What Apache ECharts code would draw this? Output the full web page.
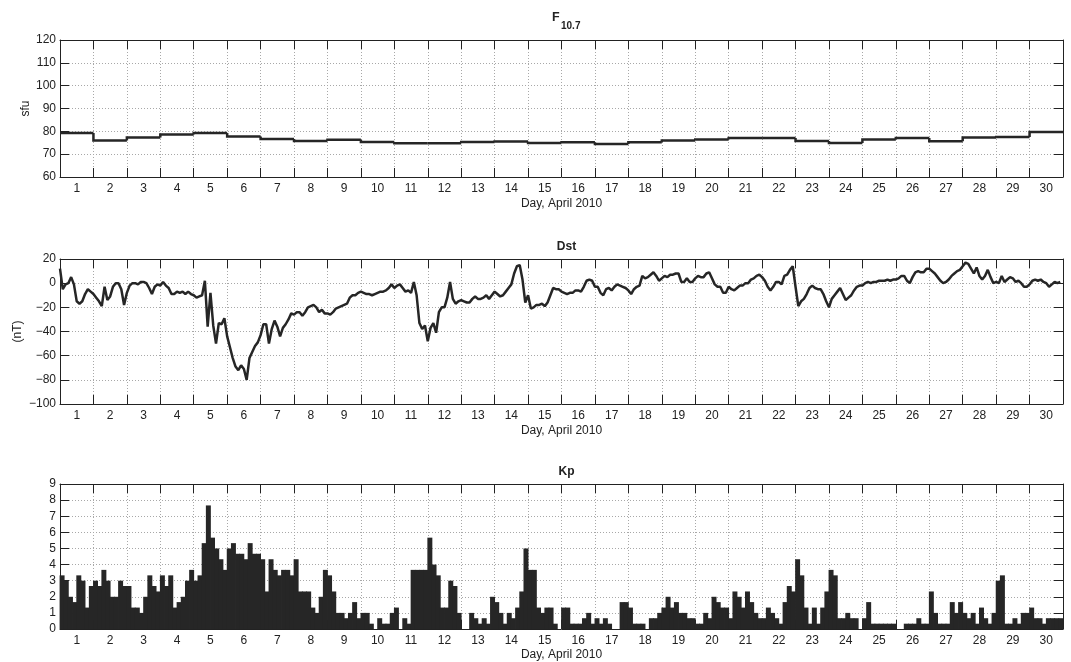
<!DOCTYPE html>
<html><head><meta charset="utf-8">
<script src="https://cdn.jsdelivr.net/npm/echarts@6/dist/echarts.min.js"></script>
<style>html,body{margin:0;padding:0;background:#fff}#c{width:1071px;height:662px}</style>
</head><body><div id="c"></div>
<script>
// ---------- data ----------
const dayLabels = ['1','2','3','4','5','6','7','8','9','10','11','12','13','14','15','16','17','18','19','20','21','22','23','24','25','26','27','28','29','30'];

// F10.7 daily values (sfu)
const f107 = [79.3, 76.0, 77.3, 78.6, 79.3, 77.7, 76.6, 75.8, 76.3, 75.3, 74.8, 74.8, 75.3, 75.6, 74.9,
              75.2, 74.4, 75.2, 76.0, 76.4, 77.1, 77.1, 75.8, 74.9, 76.4, 77.1, 75.7, 77.3, 77.5, 79.7];

// Dst (nT), 2-hourly, one row per day
const dstByDay = [
  [12, -5, -1, 0, 5, -1, -15, -17, -15, -9, -5, -7],
  [-9, -12, -15, -19, -3, -14, -11, -3, 0, 0, -5, -18],
  [-8, -2, 0, 0, -1, 1, 1, 0, -4, -9, -3, -1],
  [-2, 1, -2, -4, -9, -9, -7, -8, -7, -9, -7, -9],
  [-10, -12, -11, -10, 2, -36, -8, -35, -50, -33, -34, -29],
  [-44, -53, -62, -69, -72, -68, -71, -80, -62, -57, -52, -49],
  [-43, -34, -34, -50, -38, -31, -36, -44, -37, -34, -30, -25],
  [-26, -24, -24, -27, -24, -20, -19, -18, -20, -24, -22, -25],
  [-25, -26, -24, -21, -20, -19, -18, -17, -12, -10, -10, -8],
  [-7, -8, -9, -9, -10, -9, -8, -7, -7, -6, -4, -1],
  [-4, -2, -1, -4, -7, -6, -8, 1, -10, -33, -38, -35],
  [-48, -37, -33, -41, -24, -20, -20, -12, 1, -13, -17, -15],
  [-14, -15, -16, -16, -13, -11, -13, -13, -12, -10, -13, -10],
  [-7, -9, -11, -10, -7, -4, -1, 8, 14, 15, 3, -16],
  [-10, -21, -20, -18, -18, -17, -19, -16, -10, -4, -5, -5],
  [-7, -8, -9, -8, -8, -6, -6, -7, -3, 2, 3, 2],
  [-3, -3, -8, -10, -5, -4, -6, -3, -1, -2, -3, -4],
  [-6, -9, -5, -3, -2, 6, 4, 5, 7, 9, 6, 2],
  [4, 6, 5, 7, 7, 8, 8, 1, 1, 4, 1, 1],
  [4, 6, 5, 5, 8, 9, 4, -1, -3, -3, -8, -8],
  [-3, -5, -6, -4, -2, -2, 0, 0, 3, 4, 6, 7],
  [5, 2, -3, -6, -3, 1, 1, -1, 6, 7, 11, 14],
  [-3, -19, -15, -13, -9, -4, -2, -4, -5, -5, -9, -15],
  [-20, -13, -10, -7, -4, -9, -14, -12, -10, -6, -3, -2],
  [-2, 0, 1, 0, 1, 1, 2, 2, 2, 3, 2, 3],
  [3, 4, 6, 6, 2, 0, 5, 9, 10, 9, 9, 12],
  [12, 10, 8, 5, 2, 0, 1, 3, 6, 8, 10, 11],
  [14, 17, 16, 12, 8, 13, 6, 3, 6, 11, 5, 0],
  [1, 0, 6, 1, 3, 5, 4, 1, 2, 0, -3, -3],
  [-1, 2, 3, 2, 3, 1, 0, -3, -1, 1, 0, 1]
];

// Kp, 3-hourly, one row per day
const kpByDay = [
  [3.33, 3, 2, 1.67, 3.33, 3, 1.33, 2.67],
  [3, 2.67, 3.67, 3, 2, 2, 3, 2.67],
  [2.67, 1.33, 1.33, 1, 2, 3.33, 2.67, 2.33],
  [3.33, 2.67, 3.33, 1.33, 1.67, 2, 3, 3.67],
  [3, 3.33, 5.33, 7.67, 5.67, 5, 4.33, 3.67],
  [5, 5.33, 4.67, 4.67, 4.33, 5.33, 4.67, 4.67],
  [4.33, 2.33, 4.33, 3.67, 3.33, 3.67, 3.67, 3.33],
  [4.33, 2.33, 2.33, 2.33, 1.33, 1, 2, 3.67],
  [3.33, 2.33, 1, 1, 0.67, 1, 1.67, 0.67],
  [1, 1, 0.33, 0, 0.67, 0.33, 0.33, 1],
  [1.33, 0, 0.67, 0.33, 3.67, 3.67, 3.67, 3.67],
  [5.67, 4, 3.33, 1.33, 1.33, 3, 2.67, 1],
  [0, 0, 1, 0.67, 0.33, 0.67, 0.33, 2],
  [1.67, 1, 0.33, 1, 0.67, 1.33, 2.33, 5],
  [3.67, 3.67, 1.33, 1, 1.33, 1.33, 0.33, 0],
  [1.33, 1.33, 0.33, 0.33, 0.33, 0.67, 1, 0.33],
  [0.67, 0.33, 0.67, 0.33, 0, 0, 1.67, 1.67],
  [1.33, 0.33, 0.33, 0.33, 0, 0.67, 0.67, 1],
  [1.33, 2, 1.33, 1.67, 1, 1, 0.67, 0.67],
  [0.33, 0.33, 1, 0.67, 2, 1.67, 1.33, 1.33],
  [0.67, 2.33, 2, 1.33, 2.33, 1.67, 1, 0.67],
  [0.67, 1.33, 1, 0.67, 0.33, 1.67, 2.67, 2.33],
  [4.33, 3.33, 1.33, 0.33, 1.33, 0.33, 1.33, 2.33],
  [3.67, 3.33, 0.67, 0.67, 1, 0.67, 0.67, 0],
  [0.67, 1.67, 0.33, 0.33, 0.33, 0.33, 0.33, 0.33],
  [0, 0, 0.33, 0.33, 0.33, 0.67, 0.33, 0.33],
  [2.33, 1, 0.33, 0.33, 0.33, 1.67, 1, 1.67],
  [1, 0.67, 1, 0.33, 1.33, 0.67, 0.33, 1],
  [3, 3.33, 0.33, 0.33, 0.67, 0.33, 1, 1],
  [1.33, 0.67, 0.67, 0.33, 0.67, 0.67, 0.67, 0.67]
];

const panelTitles = ['F', 'Dst', 'Kp'];
const f107Sub = '10.7';
const yNames = ['sfu', '(nT)', ''];
const yRanges = [[60, 120, 10], [-100, 20, 20], [0, 9, 1]];
const xName = 'Day, April 2010';

// ---------- build ----------
const HOURS = 720;
// [start hour, value, previous day's value]
const f107Data = f107.map((v, i) => [i * 24, v, i > 0 ? f107[i - 1] : v]);
const dstData = [];
dstByDay.forEach((row, d) => row.forEach((v, j) => dstData.push([d * 24 + j * 2, v])));
// [slot index, Kp]
const kpData = [];
const kpSlots = [];
kpByDay.forEach((row, d) => row.forEach((v, j) => { kpData.push([kpSlots.length, v]); kpSlots.push(d + '_' + j); }));

const FONT = 'Liberation Sans, Arial, Helvetica, sans-serif';
const INK = '#222';
const MARK = '#262626';
const gridLine = { show: true, showMinLine: false, showMaxLine: false, lineStyle: { color: '#a8a8a8', type: [1, 2], width: 1 } };

const grids = [
  { left: 60, right: 8, top: 40, height: 137 },
  { left: 60, right: 8, top: 259, height: 145 },
  { left: 60, right: 8, top: 484, height: 147 }
];

const xAxes = [];
const yAxes = [];
grids.forEach((g, gi) => {
  xAxes.push({
    type: 'category', gridIndex: gi, data: dayLabels, position: 'bottom', boundaryGap: true,
    axisLine: { show: true, onZero: false, lineStyle: { color: INK, width: 1 } },
    axisTick: { show: true, inside: true, length: 9, interval: 0, lineStyle: { color: INK } },
    axisLabel: { show: true, interval: 0, margin: 6, color: INK, fontSize: 12, fontFamily: FONT },
    splitLine: Object.assign({ interval: 0 }, gridLine),
    name: xName, nameLocation: 'middle', nameGap: gi === 2 ? 20 : 21, nameMoveOverlap: false,
    nameTextStyle: { color: INK, fontSize: 12, fontFamily: FONT }
  });
  xAxes.push({
    type: 'category', gridIndex: gi, data: dayLabels, position: 'top', boundaryGap: true,
    axisLine: { show: true, onZero: false, lineStyle: { color: INK, width: 1 } },
    axisTick: { show: true, inside: true, length: 9, interval: 0, lineStyle: { color: INK } },
    axisLabel: { show: false }, splitLine: { show: false }
  });
  if (gi < 2) {
    xAxes.push({ type: 'value', gridIndex: gi, min: 0, max: HOURS, show: false });
  } else {
    xAxes.push({ type: 'category', gridIndex: gi, data: kpSlots, boundaryGap: true, show: false });
  }
  const r = yRanges[gi];
  yAxes.push({
    type: 'value', gridIndex: gi, min: r[0], max: r[1], interval: r[2], position: 'left',
    axisLine: { show: true, onZero: false, lineStyle: { color: INK, width: 1 } },
    axisTick: { show: true, inside: true, length: 9, lineStyle: { color: INK } },
    axisLabel: { show: true, margin: 4, color: INK, fontSize: 12, fontFamily: FONT,
      showMinLabel: true, showMaxLabel: true,
      formatter: v => String(v).replace('-', '\u2212') },
    splitLine: gridLine,
    name: yNames[gi], nameLocation: 'middle', nameGap: gi === 0 ? 28 : 36, nameMoveOverlap: false,
    nameTextStyle: { color: INK, fontSize: 12, fontFamily: FONT }
  });
  yAxes.push({
    type: 'value', gridIndex: gi, min: r[0], max: r[1], interval: r[2], position: 'right',
    axisLine: { show: true, onZero: false, lineStyle: { color: INK, width: 1 } },
    axisTick: { show: true, inside: true, length: 9, lineStyle: { color: INK } },
    axisLabel: { show: false }, splitLine: { show: false }
  });
});

const plotCenter = 60 + (1071 - 8 - 60) / 2;
const titleStyle = { color: INK, fontSize: 12, fontWeight: 'bold', fontFamily: FONT };

const option = {
  animation: false,
  backgroundColor: '#fff',
  title: [
    { text: panelTitles[0], left: 547, top: 6, textStyle: Object.assign({}, titleStyle, { fontSize: 12.5 }) },
    { text: f107Sub, left: 556, top: 16, textStyle: Object.assign({}, titleStyle, { fontSize: 10 }) },
    { text: panelTitles[1], left: plotCenter, top: 236, textAlign: 'center', textStyle: titleStyle },
    { text: panelTitles[2], left: plotCenter, top: 461, textAlign: 'center', textStyle: titleStyle }
  ],
  grid: grids,
  xAxis: xAxes,
  yAxis: yAxes,
  series: [
    { type: 'custom', coordinateSystem: 'cartesian2d', xAxisIndex: 2, yAxisIndex: 0, data: f107Data,
      encode: { x: 0, y: 1 },
      renderItem: function (params, api) {
        const t = api.value(0), v = api.value(1), pv = api.value(2);
        return {
          type: 'polyline',
          shape: { points: [api.coord([t, pv]), api.coord([t, v]), api.coord([t + 24, v])] },
          style: { stroke: MARK, lineWidth: 2.5, fill: null, lineJoin: 'miter' }
        };
      }
    },
    { type: 'line', xAxisIndex: 5, yAxisIndex: 2, data: dstData, showSymbol: false,
      lineStyle: { color: MARK, width: 2.5 } },
    { type: 'custom', coordinateSystem: 'cartesian2d', xAxisIndex: 8, yAxisIndex: 4, data: kpData,
      encode: { x: 0, y: 1 },
      renderItem: function (params, api) {
        const top = api.coord([api.value(0), api.value(1)]);
        const base = api.coord([api.value(0), 0]);
        const w = api.size([1, 0])[0];
        const h = base[1] - top[1];
        if (h <= 0) return null;
        return {
          type: 'rect',
          shape: { x: top[0] - w / 2 - 0.4, y: top[1], width: w + 0.8, height: h },
          style: { fill: MARK }
        };
      }
    }
  ]
};

const chart = echarts.init(document.getElementById('c'), null, { renderer: 'canvas' });
chart.setOption(option);
</script>
</body></html>
